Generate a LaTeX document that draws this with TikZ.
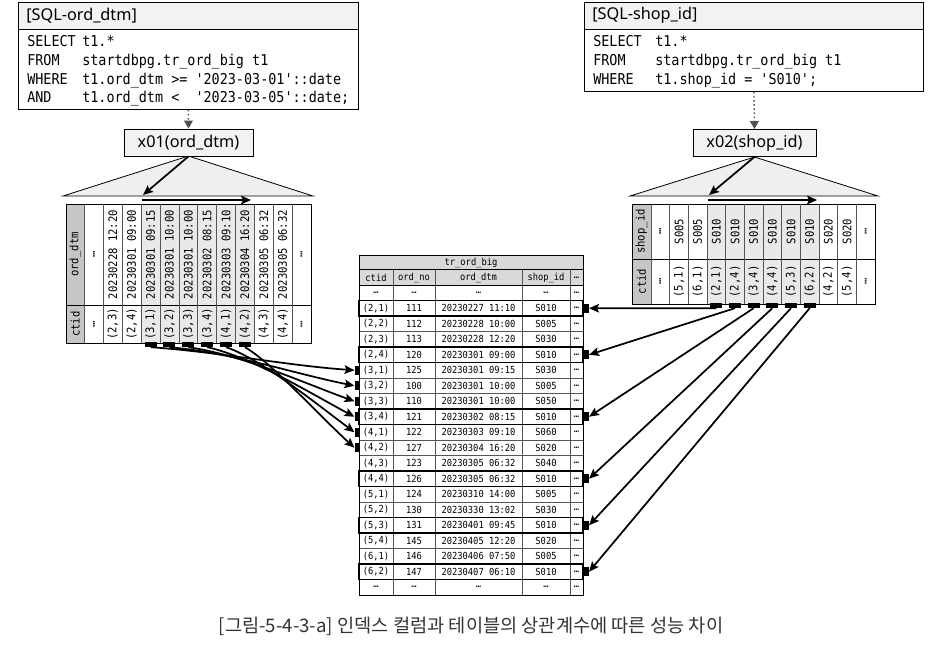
\documentclass[tikz,border=0pt]{standalone}
\usepackage{fontspec}
\usetikzlibrary{arrows.meta}
\setmainfont{Noto Sans}
\setmonofont[FakeStretch=0.9]{DejaVu Sans Mono}
\newfontfamily\cjk{Noto Sans CJK KR}
\definecolor{ttlbg}{HTML}{F2F2F2}
\definecolor{tribg}{HTML}{EFEFEF}
\definecolor{idxhd}{HTML}{C6C6C6}
\definecolor{hlbg}{HTML}{E9E9E9}
\definecolor{tblhd}{HTML}{D9D9D9}
\definecolor{dotc}{HTML}{505050}
\definecolor{capc}{HTML}{333333}
\definecolor{gridc}{HTML}{555555}
\newcommand\sqlf{\ttfamily\fontsize{11.2}{13}\selectfont}
\newcommand\idxf{\ttfamily\fontsize{8.8}{10}\selectfont}
\newcommand\tblf{\ttfamily\fontsize{7.3}{8}\selectfont}
\begin{document}
\begin{tikzpicture}[x=0.75pt,y=-0.75pt,
  thinbox/.style={draw=black,line width=0.6pt},
  sqlt/.style={anchor=base west,inner sep=0pt,font=\sqlf},
  ttlt/.style={anchor=west,inner sep=0pt,font=\fontsize{12.2}{14}\selectfont},
  xnode/.style={draw=black,line width=0.6pt,fill=ttlbg,minimum height=20.25pt,inner sep=0pt,font=\fontsize{12.2}{14}\selectfont},
  rot/.style={rotate=90,inner sep=0pt,font=\idxf},
  cell/.style={inner sep=0pt,font=\tblf},
  mk/.style={fill=black,draw=none,inner sep=0pt,minimum width=9pt,minimum height=3.6pt},
  tmk/.style={fill=black,draw=none,inner sep=0pt,minimum width=3.4pt,minimum height=7pt},
  arr/.style={line width=1.3pt,-{Stealth[length=7.5pt,width=6.5pt,inset=1.5pt]}},
  dotarr/.style={draw=dotc,dotted,line width=1.1pt,-{Triangle[length=6pt,width=6.5pt,fill=dotc]}}
]
\useasboundingbox (0,0) rectangle (942,647);

% ---------------- left SQL box ----------------
\fill[ttlbg] (18,2) rectangle (358,29);
\node[thinbox,anchor=north west,minimum width=255pt,minimum height=80.25pt,inner sep=0pt] (sqlA) at (18,2) {};
\draw[line width=0.6pt] (18,29) -- (358,29);
\node[ttlt] (sqlAt) at (26,15.5) {[SQL-ord\_dtm]};
\node[sqlt] (a1k) at (27,46) {SELECT};
\node[sqlt] (a1v) at (82,46) {t1.*};
\node[sqlt] (a2k) at (27,65) {FROM};
\node[sqlt] (a2v) at (82,65) {startdbpg.tr\_ord\_big t1};
\node[sqlt] (a3k) at (27,84) {WHERE};
\node[sqlt] (a3v) at (82,84) {t1.ord\_dtm >= '2023-03-01'::date};
\node[sqlt] (a4k) at (27,102) {AND};
\node[sqlt] (a4v) at (82,102) {t1.ord\_dtm <\ \ '2023-03-05'::date;};

% ---------------- right SQL box ----------------
\fill[ttlbg] (584,2) rectangle (923,29);
\node[thinbox,anchor=north west,minimum width=254.25pt,minimum height=66.75pt,inner sep=0pt] (sqlB) at (584,2) {};
\draw[line width=0.6pt] (584,29) -- (923,29);
\node[ttlt] (sqlBt) at (592,15.5) {[SQL-shop\_id]};
\node[sqlt] (b1k) at (593,46) {SELECT};
\node[sqlt] (b1v) at (655,46) {t1.*};
\node[sqlt] (b2k) at (593,65) {FROM};
\node[sqlt] (b2v) at (655,65) {startdbpg.tr\_ord\_big t1};
\node[sqlt] (b3k) at (593,84) {WHERE};
\node[sqlt] (b3v) at (655,84) {t1.shop\_id = 'S010';};

% ---------------- triangles ----------------
\filldraw[fill=tribg,draw=black,line width=0.6pt] (188.5,156) -- (63,196) -- (313,196) -- cycle;
\filldraw[fill=tribg,draw=black,line width=0.6pt] (754.5,157) -- (630,196) -- (878,196) -- cycle;

% ---------------- index nodes ----------------
\node[xnode,minimum width=96.75pt] (x01) at (188.5,142.5) {x01(ord\_dtm)};
\node[xnode,minimum width=92.25pt] (x02) at (754.5,143) {x02(shop\_id)};
\draw[dotarr] (sqlA.south) -- (x01.north);
\draw[dotarr] (sqlB.south) -- (x02.north);

% ---------------- left index table ----------------
\fill[idxhd] (66,204) rectangle (84.5,343);
\fill[hlbg] ({84.5+3*18.875},204) rectangle ({84.5+9*18.875},343);
\draw[line width=0.6pt] (66,204) rectangle (311,343);
\draw[line width=0.6pt] (66,305) -- (311,305);
\foreach \k in {0,...,11} {\draw[line width=0.5pt,draw=gridc] ({84.5+18.875*\k},204) -- ({84.5+18.875*\k},343);}
\node[rot] (lh1) at (75.25,254.5) {ord\_dtm};
\node[rot] (lh2) at (75.25,324) {ctid};
\foreach \v [count=\k from 0] in {…,20230228 12:20,20230301 09:00,20230301 09:15,20230301 10:00,20230301 10:00,20230302 08:15,20230303 09:10,20230304 16:20,20230305 06:32,20230305 06:32,…}
  {\node[rot] (ld\k) at ({84.5+18.875*(\k+0.5)},254.5) {\v};}
\foreach \v [count=\k from 0] in {…,{(2,3)},{(2,4)},{(3,1)},{(3,2)},{(3,3)},{(3,4)},{(4,1)},{(4,2)},{(4,3)},{(4,4)},…}
  {\node[rot] (lc\k) at ({84.5+18.875*(\k+0.5)},324) {\v};}
\foreach \k in {3,...,8} {\node[mk] (lm\k) at ({84.5+18.875*(\k+0.5)},344.5) {};}
\coordinate (lt0) at (142,200);
\coordinate (lt1) at (251,200);
\coordinate (ltd) at (143,195);
\draw[arr] (lt0) -- (lt1);
\draw[arr] (x01.south) -- (ltd);

% ---------------- right index table ----------------
\fill[idxhd] (632,204) rectangle (651,304);
\fill[hlbg] ({651+3*18.667},204) rectangle ({651+9*18.667},304);
\draw[line width=0.6pt] (632,204) rectangle (875,304);
\draw[line width=0.6pt] (632,259) -- (875,259);
\foreach \k in {0,...,11} {\draw[line width=0.5pt,draw=gridc] ({651+18.667*\k},204) -- ({651+18.667*\k},304);}
\node[rot] (rh1) at (641.5,231.5) {shop\_id};
\node[rot] (rh2) at (641.5,281.5) {ctid};
\foreach \v [count=\k from 0] in {…,S005,S005,S010,S010,S010,S010,S010,S010,S020,S020,…}
  {\node[rot] (rd\k) at ({651+18.667*(\k+0.5)},231.5) {\v};}
\foreach \v [count=\k from 0] in {…,{(5,1)},{(6,1)},{(2,1)},{(2,4)},{(3,4)},{(4,4)},{(5,3)},{(6,2)},{(4,2)},{(5,4)},…}
  {\node[rot] (rc\k) at ({651+18.667*(\k+0.5)},281.5) {\v};}
\foreach \k in {3,...,8} {\node[mk] (rm\k) at ({651+18.667*(\k+0.5)},305.5) {};}
\coordinate (rt0) at (708,200);
\coordinate (rt1) at (817,200);
\coordinate (rtd) at (709,195);
\draw[arr] (rt0) -- (rt1);
\draw[arr] (x02.south) -- (rtd);

% ---------------- central table ----------------
\fill[tblhd] (359,255) rectangle (583,285);
\foreach \k in {1,...,19} {\draw[line width=0.5pt,draw=gridc] (359,{285+15.5*\k}) -- (583,{285+15.5*\k});}
\foreach \xx in {393,435,522,570} {\draw[line width=0.5pt,draw=gridc] (\xx,269.5) -- (\xx,595);}
\draw[line width=0.6pt] (359,269.5) -- (583,269.5);
\draw[line width=0.6pt] (359,285) -- (583,285);
\draw[line width=0.7pt] (359,255) rectangle (583,595);
\foreach \i in {1,4,8,12,15,18} {\draw[line width=0.9pt] (359,{285+15.5*\i}) rectangle (583,{300.5+15.5*\i});}
\node[cell] (ttl) at (471,262.5) {tr\_ord\_big};
\node[cell] (h1) at (376,277.5) {ctid};
\node[cell] (h2) at (414,277.5) {ord\_no};
\node[cell] (h3) at (478.5,277.5) {ord\_dtm};
\node[cell] (h4) at (546,277.5) {shop\_id};
\node[cell] (h5) at (576.5,277.5) {…};
\foreach \c/\o/\d/\s [count=\i from 0] in {…/…/…/…,{(2,1)}/111/20230227 11:10/S010,{(2,2)}/112/20230228 10:00/S005,{(2,3)}/113/20230228 12:20/S030,{(2,4)}/120/20230301 09:00/S010,{(3,1)}/125/20230301 09:15/S030,{(3,2)}/100/20230301 10:00/S005,{(3,3)}/110/20230301 10:00/S050,{(3,4)}/121/20230302 08:15/S010,{(4,1)}/122/20230303 09:10/S060,{(4,2)}/127/20230304 16:20/S020,{(4,3)}/123/20230305 06:32/S040,{(4,4)}/126/20230305 06:32/S010,{(5,1)}/124/20230310 14:00/S005,{(5,2)}/130/20230330 13:02/S030,{(5,3)}/131/20230401 09:45/S010,{(5,4)}/145/20230405 12:20/S020,{(6,1)}/146/20230406 07:50/S005,{(6,2)}/147/20230407 06:10/S010,…/…/…/…}
{
  \node[cell] (tc\i) at (376,{292.75+15.5*\i}) {\c};
  \node[cell] (to\i) at (414,{292.75+15.5*\i}) {\o};
  \node[cell] (td\i) at (478.5,{292.75+15.5*\i}) {\d};
  \node[cell] (ts\i) at (546,{292.75+15.5*\i}) {\s};
  \node[cell] (te\i) at (576.5,{292.75+15.5*\i}) {…};
}
\foreach \i in {5,...,10} {\node[tmk] (tl\i) at (357,{292.75+15.5*\i}) {};}
\foreach \i in {1,4,8,12,15,18} {\node[tmk] (tr\i) at (586.5,{292.75+15.5*\i}) {};}

% ---------------- connectors ----------------
\draw[arr] (lm3.south) .. controls +(70,5) and +(-70,-5) .. (tl5.west);
\draw[arr] (lm4.south) .. controls +(65,6) and +(-60,-12) .. (tl6.west);
\draw[arr] (lm5.south) .. controls +(55,8) and +(-50,-18) .. (tl7.west);
\draw[arr] (lm6.south) .. controls +(45,10) and +(-45,-24) .. (tl8.west);
\draw[arr] (lm7.south) .. controls +(35,12) and +(-40,-30) .. (tl9.west);
\draw[arr] (lm8.south) .. controls +(25,14) and +(-35,-32) .. (tl10.west);

\draw[arr] (rm3.south) -- (tr1.east);
\draw[arr] (rm4.south) -- (tr4.east);
\draw[arr] (rm5.south) -- (tr8.east);
\draw[arr] (rm6.south) -- (tr12.east);
\draw[arr] (rm7.south) -- (tr15.east);
\draw[arr] (rm8.south) -- (tr18.east);

% ---------------- caption ----------------
\node[font=\cjk\fontsize{14}{16}\selectfont,text=capc,inner sep=0pt] (cap) at (471,626) {[그림-5-4-3-a] 인덱스 컬럼과 테이블의 상관계수에 따른 성능 차이};
\end{tikzpicture}
\end{document}
